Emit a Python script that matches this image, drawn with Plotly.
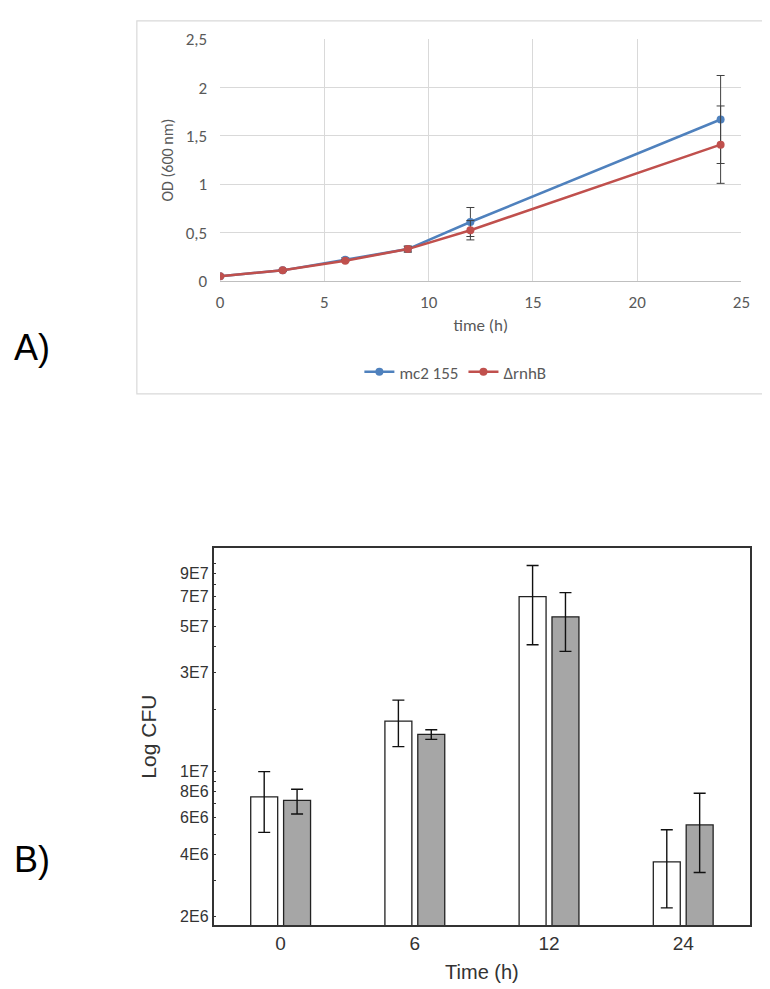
import plotly.graph_objects as go

W, H = 770, 989

# ---- Panel A: growth curve (OD 600 nm) ----
time_h = [0, 3, 6, 9, 12, 24]
od_mc2 = [0.05, 0.11, 0.22, 0.33, 0.61, 1.67]
od_mc2_err = [0.01, 0.01, 0.02, 0.03, 0.15, 0.455]
od_rnhb = [0.05, 0.11, 0.21, 0.33, 0.525, 1.41]
od_rnhb_err = [0.01, 0.01, 0.01, 0.03, 0.10, 0.40]
od_ticks = [0, 0.5, 1, 1.5, 2, 2.5]
od_ticktext = ["0", "0,5", "1", "1,5", "2", "2,5"]

# ---- Panel B: CFU bars ----
cfu_times = ["0", "6", "12", "24"]
cfu_wt = [7.56e6, 1.75e7, 6.96e7, 3.68e6]
cfu_wt_hi = [1.0e7, 2.21e7, 9.82e7, 5.25e6]
cfu_wt_lo = [5.10e6, 1.32e7, 4.08e7, 2.21e6]
cfu_mut = [7.27e6, 1.51e7, 5.56e7, 5.54e6]
cfu_mut_hi = [8.22e6, 1.59e7, 7.27e7, 7.87e6]
cfu_mut_lo = [6.25e6, 1.43e7, 3.79e7, 3.27e6]
cfu_tickvals = [2e6, 3e6, 4e6, 5e6, 6e6, 7e6, 8e6, 9e6, 1e7,
                2e7, 3e7, 4e7, 5e7, 6e7, 7e7, 8e7, 9e7, 1e8]
cfu_ticktext = ["2E6", "", "4E6", "", "6E6", "", "8E6", "", "1E7",
                "", "3E7", "", "5E7", "", "7E7", "", "9E7", ""]


def px_x(p):
    return p / W


def px_y(p):
    return 1 - p / H


blue = "#4f81bd"
red = "#c0504d"
grid = "#d9d9d9"
txt_a = "#595959"
font_a = "Carlito, Lato, sans-serif"
font_b = "Liberation Sans Narrow, Liberation Sans, Arial, sans-serif"

fig = go.Figure()

fig.add_trace(go.Scatter(
    x=time_h, y=od_mc2, mode="lines+markers", name="mc2 155",
    line=dict(color=blue, width=2.5), marker=dict(color=blue, size=8),
    error_y=dict(type="data", array=od_mc2_err, color="#404040", thickness=1, width=4),
    xaxis="x", yaxis="y"))
fig.add_trace(go.Scatter(
    x=time_h, y=od_rnhb, mode="lines+markers", name="ΔrnhB",
    line=dict(color=red, width=2.5), marker=dict(color=red, size=8),
    error_y=dict(type="data", array=od_rnhb_err, color="#404040", thickness=1, width=4),
    xaxis="x", yaxis="y"))

wt_plus = [h - v for h, v in zip(cfu_wt_hi, cfu_wt)]
wt_minus = [v - l for v, l in zip(cfu_wt, cfu_wt_lo)]
mut_plus = [h - v for h, v in zip(cfu_mut_hi, cfu_mut)]
mut_minus = [v - l for v, l in zip(cfu_mut, cfu_mut_lo)]

fig.add_trace(go.Bar(
    x=cfu_times, y=cfu_wt, showlegend=False,
    marker=dict(color="white", line=dict(color="#222222", width=1.3)),
    error_y=dict(type="data", array=wt_plus, arrayminus=wt_minus,
                 color="#111111", thickness=1.4, width=6),
    xaxis="x2", yaxis="y2"))
fig.add_trace(go.Bar(
    x=cfu_times, y=cfu_mut, showlegend=False,
    marker=dict(color="#a6a6a6", line=dict(color="#222222", width=1.3)),
    error_y=dict(type="data", array=mut_plus, arrayminus=mut_minus,
                 color="#111111", thickness=1.4, width=6),
    xaxis="x2", yaxis="y2"))

fig.update_layout(
    width=W, height=H,
    margin=dict(l=0, r=0, t=0, b=0),
    paper_bgcolor="white", plot_bgcolor="white",
    barmode="group", bargap=0.51, bargroupgap=0.18,
    showlegend=True,
    legend=dict(orientation="h", x=px_x(451), y=px_y(362),
                xanchor="center", yanchor="middle",
                font=dict(family=font_a, size=17, color=txt_a)),
    xaxis=dict(domain=[px_x(211.7), px_x(742)], range=[0, 25], dtick=5,
               anchor="y",
               showgrid=True, gridcolor=grid, zeroline=False,
               showline=True, linecolor="#bfbfbf", linewidth=1,
               ticks="", ticklabelstandoff=6,
               tickfont=dict(family=font_a, size=17, color=txt_a),
               title=dict(text="time (h)", standoff=6,
                          font=dict(family=font_a, size=17, color=txt_a))),
    yaxis=dict(domain=[px_y(268.7), px_y(21.7)], range=[0, 2.5],
               anchor="x",
               tickvals=od_ticks, ticktext=od_ticktext,
               showgrid=True, gridcolor=grid, zeroline=False, showline=False,
               ticks="", ticklabelstandoff=12,
               tickfont=dict(family=font_a, size=17, color=txt_a),
               title=dict(text="OD (600 nm)", standoff=8,
                          font=dict(family=font_a, size=16, color=txt_a))),
    xaxis2=dict(domain=[px_x(205), px_x(751)], type="category",
                anchor="y2",
                range=[-0.5, 3.5], showgrid=False, zeroline=False,
                showline=True, mirror=True, linecolor="#333333", linewidth=1.5,
                ticks="", tickfont=dict(family=font_b, size=19, color="#333333"),
                title=dict(text="Time (h)", standoff=12,
                           font=dict(family="Liberation Sans, Arial", size=20, color="#333333"))),
    yaxis2=dict(domain=[px_y(926.7), px_y(541.7)], type="log",
                anchor="x2",
                range=[6.2616, 8.0755],
                tickvals=cfu_tickvals, ticktext=cfu_ticktext,
                showgrid=False, zeroline=False,
                showline=True, mirror=True, linecolor="#333333", linewidth=1.5,
                ticks="inside", ticklen=3, tickcolor="#333333",
                tickfont=dict(family=font_b, size=16, color="#333333"),
                title=dict(text="Log CFU", standoff=18,
                           font=dict(family="Liberation Sans, Arial", size=21, color="#333333"))),
    shapes=[dict(type="rect", xref="paper", yref="paper",
                 x0=px_x(127), x1=px_x(769), y0=px_y(384), y1=px_y(3),
                 line=dict(color=grid, width=1.2), fillcolor="rgba(0,0,0,0)",
                 layer="below")],
    annotations=[
        dict(text="A)", xref="paper", yref="paper", x=px_x(0), y=px_y(337),
             xanchor="left", yanchor="middle", showarrow=False,
             font=dict(family="Liberation Sans, Arial", size=36, color="black")),
        dict(text="B)", xref="paper", yref="paper", x=px_x(0), y=px_y(860),
             xanchor="left", yanchor="middle", showarrow=False,
             font=dict(family="Liberation Sans, Arial", size=36, color="black")),
    ],
)

fig.write_html("out.html")
